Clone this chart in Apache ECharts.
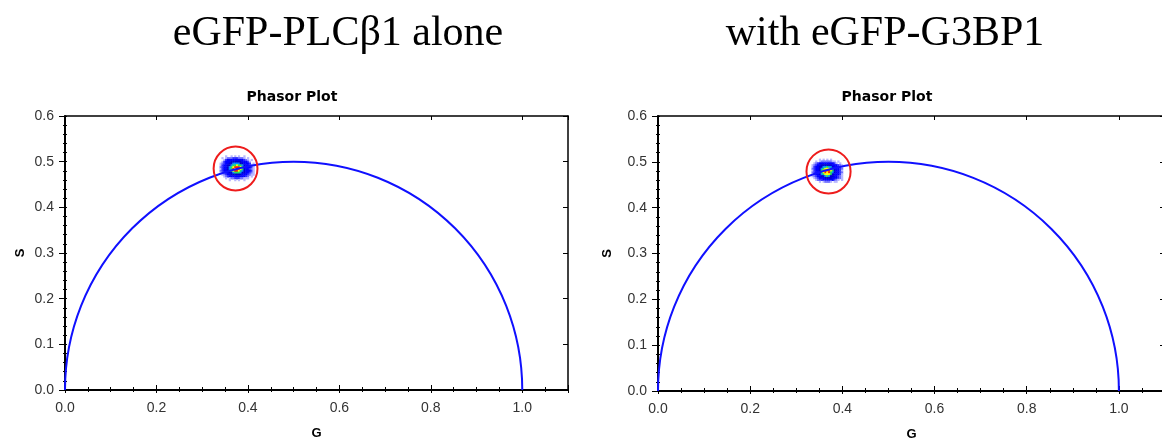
<!DOCTYPE html>
<html>
<head>
<meta charset="utf-8">
<script src="https://cdn.jsdelivr.net/npm/echarts@6/dist/echarts.min.js"></script>
<style>
  html, body { margin: 0; padding: 0; background: #fff; }
  #chart { width: 1162px; height: 440px; }
</style>
</head>
<body>
<div id="chart"></div>
<script>
// Panel headings
const panelTitles = ['eGFP-PLCβ1 alone', 'with eGFP-G3BP1'];
const plotTitle = 'Phasor Plot';
const axisNames = ['G', 'S'];

// Axis ranges and tick steps
const gRange = [0, 1.1];
const sRange = [0, 0.6];
const gStep = 0.2;
const sStep = 0.1;

// Universal semicircle: centre (0.5, 0), radius 0.5
const universalCenter = [0.5, 0];
const universalRadius = 0.5;

// Cursor circles marking the cluster in each panel (G, S) and their radius
const cursorCenters = [[0.373, 0.485], [0.370, 0.479]];
const cursorRadius = 0.048;

// Phasor histogram: centre of each cloud, bin size and per-bin density level (0-9)
const cloudCenters = [[0.376, 0.486], [0.367, 0.481]];
const binSize = 0.004;
const densityAlone = [
  "...1..1.1.1..1.....",
  ".1.12223332221.1...",
  "..13444444444321.1.",
  ".1344455555544431..",
  "12344556666554443.1",
  "1344556778776544321",
  "2344567899987544431",
  "1344567989987544321",
  "2344567899876544431",
  "1234455677765544321",
  ".123445555554443211",
  "..12344444444432.1.",
  "...1.12233322111...",
  ".....1..1.1..1....."
];
const densityWithG3BP1 = [
  "....1.1.1.1......",
  "..1.122222211.1..",
  ".1234444444431.1.",
  "12344555555444321",
  "13445566766544431",
  "23445678887654432",
  "13445789998754431",
  "23445789897654432",
  "13445678887544431",
  "12344556765544321",
  ".1234445555444321",
  "..1233444444321.1",
  "....1.12221.11..."
];
const densities = [densityAlone, densityWithG3BP1];

// Colour for each density level
const levelColors = ['#ffffff', '#b8b8ff', '#7070ff', '#3030ff', '#0000ff',
                     '#0000d0', '#0090ff', '#20e060', '#ffff00', '#ff2000'];

// Plot boxes in pixels
const grids = [
  { left: 65, top: 116, width: 503, height: 274 },
  { left: 658, top: 116, width: 507, height: 275 }
];
const headingX = [338, 885];
const plotTitleX = [292, 887];
const sNameGap = [38, 44];

function cellsFrom(rows, center) {
  const out = [];
  const nr = rows.length, nc = rows[0].length;
  rows.forEach((row, r) => {
    for (let c = 0; c < nc; c++) {
      if (row[c] === '.') continue;
      out.push([
        center[0] + (c - (nc - 1) / 2) * binSize,
        center[1] + ((nr - 1) / 2 - r) * binSize,
        +row[c]
      ]);
    }
  });
  return out;
}

const labelFont = { color: '#333', fontSize: 14, fontFamily: 'Liberation Sans, Arial, sans-serif' };
const nameFont = { color: '#000', fontSize: 13, fontWeight: 'bold', fontFamily: 'Liberation Sans, Arial, sans-serif' };
const black = { color: '#000', width: 1 };

const xAxes = [], yAxes = [], series = [], graphics = [];

grids.forEach((g, i) => {
  const xBase = xAxes.length, yBase = yAxes.length;
  // bottom axis: line, labels, inner ticks
  xAxes.push({
    type: 'value', gridIndex: i, position: 'bottom', min: gRange[0], max: gRange[1], interval: gStep,
    name: axisNames[0], nameLocation: 'middle', nameGap: 37, nameTextStyle: nameFont,
    axisLine: { show: true, onZero: false, lineStyle: { color: '#000', width: 2 } },
    axisTick: { show: true, inside: true, length: 5, lineStyle: black },
    minorTick: { show: true, splitNumber: 4, length: 3, lineStyle: black },
    axisLabel: Object.assign({ margin: 11, showMaxLabel: false, formatter: v => v.toFixed(1) }, labelFont),
    splitLine: { show: false }, minorSplitLine: { show: false }
  });
  // bottom axis: short outer ticks
  xAxes.push({
    type: 'value', gridIndex: i, position: 'bottom', min: gRange[0], max: gRange[1], interval: gStep,
    axisLine: { show: false, onZero: false },
    axisTick: { show: true, inside: false, length: 3, lineStyle: black },
    minorTick: { show: true, splitNumber: 4, length: 2, lineStyle: black },
    axisLabel: { show: false }, splitLine: { show: false }
  });
  // top frame
  xAxes.push({
    type: 'value', gridIndex: i, position: 'top', min: gRange[0], max: gRange[1], interval: gStep,
    axisLine: { show: true, onZero: false, lineStyle: { color: '#000', width: 1.5 } },
    axisTick: { show: true, inside: true, length: 4, lineStyle: black },
    axisLabel: { show: false }, splitLine: { show: false }
  });
  // left axis: line, labels, outer ticks
  yAxes.push({
    type: 'value', gridIndex: i, position: 'left', min: sRange[0], max: sRange[1], interval: sStep,
    name: axisNames[1], nameLocation: 'middle', nameGap: sNameGap[i], nameRotate: 90, nameTextStyle: nameFont,
    axisLine: { show: true, onZero: false, lineStyle: { color: '#000', width: 2 } },
    axisTick: { show: true, inside: false, length: 6, lineStyle: black },
    minorTick: { show: true, splitNumber: 5, length: 2, lineStyle: black },
    axisLabel: Object.assign({ margin: 11, formatter: v => v.toFixed(1) }, labelFont),
    splitLine: { show: false }, minorSplitLine: { show: false }
  });
  // left axis: short inner ticks
  yAxes.push({
    type: 'value', gridIndex: i, position: 'left', min: sRange[0], max: sRange[1], interval: sStep,
    axisLine: { show: false, onZero: false },
    axisTick: { show: true, inside: true, length: 2, lineStyle: black },
    minorTick: { show: true, splitNumber: 5, length: 2, lineStyle: black },
    axisLabel: { show: false }, splitLine: { show: false }
  });
  // right frame
  yAxes.push({
    type: 'value', gridIndex: i, position: 'right', min: sRange[0], max: sRange[1], interval: sStep,
    axisLine: { show: true, onZero: false, lineStyle: { color: '#000', width: 1.5 } },
    axisTick: { show: true, inside: true, length: 5, lineStyle: black },
    axisLabel: { show: false }, splitLine: { show: false }
  });

  // phasor density cloud
  series.push({
    type: 'custom', xAxisIndex: xBase, yAxisIndex: yBase, z: 2, silent: true,
    data: cellsFrom(densities[i], cloudCenters[i]),
    renderItem: (params, api) => {
      const p = api.coord([api.value(0) - binSize / 2, api.value(1) + binSize / 2]);
      const s = api.size([binSize, binSize]);
      return {
        type: 'rect',
        shape: { x: p[0], y: p[1], width: s[0] + 0.4, height: s[1] + 0.4 },
        style: { fill: levelColors[api.value(2)] }
      };
    }
  });
  // universal semicircle
  series.push({
    type: 'custom', xAxisIndex: xBase, yAxisIndex: yBase, z: 3, silent: true,
    data: [[universalCenter[0], universalCenter[1], universalRadius]],
    renderItem: (params, api) => {
      const cx = api.value(0), cy = api.value(1), r = api.value(2);
      const a = api.coord([cx - r, cy]);
      const b = api.coord([cx + r, cy]);
      const t = api.coord([cx, cy + r]);
      const rx = (b[0] - a[0]) / 2, ry = a[1] - t[1];
      return {
        type: 'path',
        shape: { pathData: `M ${a[0]} ${a[1]} A ${rx} ${ry} 0 0 1 ${b[0]} ${b[1]}` },
        style: { fill: null, stroke: '#1010ff', lineWidth: 2 }
      };
    }
  });
  // cursor circle
  series.push({
    type: 'custom', xAxisIndex: xBase, yAxisIndex: yBase, z: 4, silent: true,
    data: [[cursorCenters[i][0], cursorCenters[i][1], cursorRadius]],
    renderItem: (params, api) => {
      const c = api.coord([api.value(0), api.value(1)]);
      const s = api.size([api.value(2), api.value(2)]);
      return {
        type: 'circle',
        shape: { cx: c[0], cy: c[1], r: (s[0] + s[1]) / 2 },
        style: { fill: null, stroke: '#ee1c1c', lineWidth: 2 }
      };
    }
  });

  graphics.push({
    type: 'text', x: headingX[i], y: 34,
    style: { text: panelTitles[i], fill: '#000', font: '42px "Liberation Serif", "Times New Roman", serif',
             textAlign: 'center', textVerticalAlign: 'middle' }
  });
  graphics.push({
    type: 'text', x: plotTitleX[i], y: 97,
    style: { text: plotTitle, fill: '#000', font: 'bold 14px "DejaVu Sans", Verdana, sans-serif',
             textAlign: 'center', textVerticalAlign: 'middle' }
  });
});

const chart = echarts.init(document.getElementById('chart'), null, { renderer: 'canvas' });
chart.setOption({
  animation: false,
  backgroundColor: '#fff',
  grid: grids.map(g => Object.assign({ containLabel: false, outerBoundsMode: 'none' }, g)),
  xAxis: xAxes,
  yAxis: yAxes,
  series: series,
  graphic: graphics
});
</script>
</body>
</html>
